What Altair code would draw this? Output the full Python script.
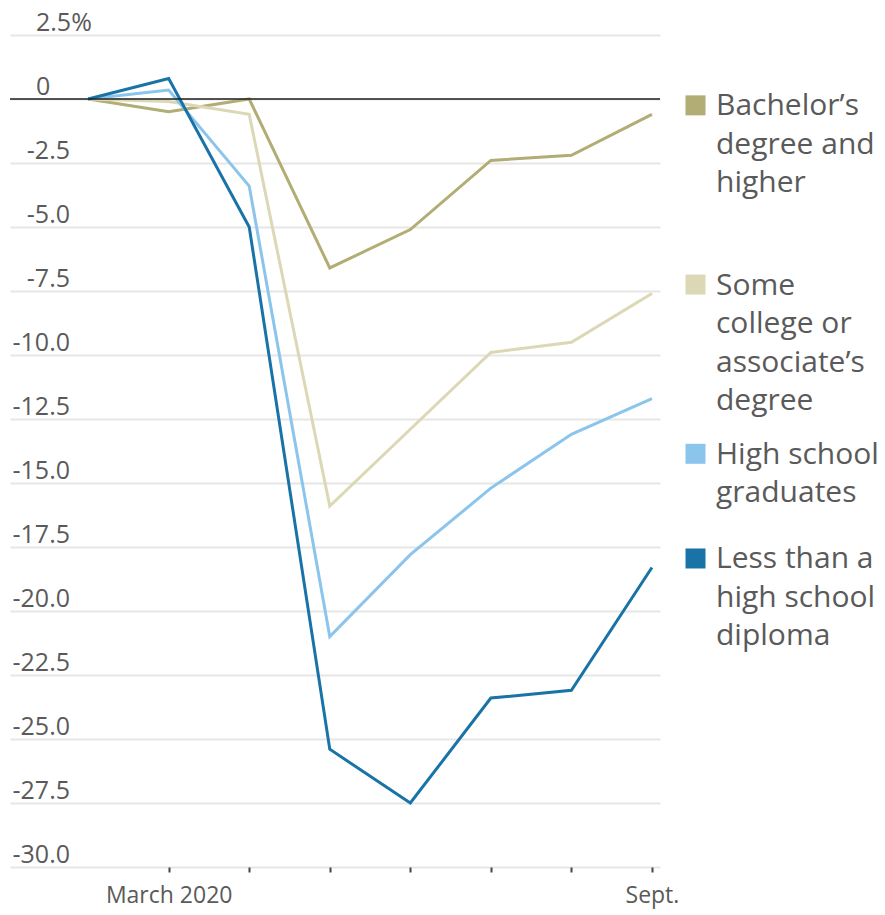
import altair as alt
import pandas as pd

# Change in employment since February 2020, by education level (percent)
month_index = [0, 1, 2, 3, 4, 5, 6, 7]  # Feb. 2020 ... Sept. 2020
tick_labels = {1: "March 2020", 7: "Sept."}

series_names = [
    "Bachelor’s degree and higher",
    "Some college or associate’s degree",
    "High school graduates",
    "Less than a high school diploma",
]
legend_lines = [
    "Bachelor’s\ndegree and\nhigher",
    "Some\ncollege or\nassociate’s\ndegree",
    "High school\ngraduates",
    "Less than a\nhigh school\ndiploma",
]
bachelors = [0.0, -0.5, 0.0, -6.6, -5.1, -2.4, -2.2, -0.6]
some_college = [0.0, -0.1, -0.6, -15.9, -12.9, -9.9, -9.5, -7.6]
high_school = [0.0, 0.35, -3.4, -21.0, -17.8, -15.2, -13.1, -11.7]
less_than_hs = [0.0, 0.8, -5.0, -25.4, -27.5, -23.4, -23.1, -18.3]

y_ticks = [2.5, 0, -2.5, -5, -7.5, -10, -12.5, -15, -17.5, -20, -22.5, -25, -27.5, -30]

colors = ["#b1ad74", "#dcd8b6", "#8cc5ec", "#1a73a7"]
FONT = "Open Sans"
TEXT = "#5a5a5a"

all_values = [bachelors, some_college, high_school, less_than_hs]
rows = []
for name, vals in zip(series_names, all_values):
    for m, v in zip(month_index, vals):
        rows.append({"series": name, "month": m, "value": v})
df = pd.DataFrame(rows)

# Legend blocks sit at each line's final value, pushed down when they would collide
line_step = 38.5 / 25.6  # one text line, in y-scale units
anchors = []
prev_end = None
for vals, lines in zip(all_values, legend_lines):
    a = vals[-1]
    if prev_end is not None:
        a = min(a, prev_end - 2.1)
    anchors.append(a)
    prev_end = a - (lines.count("\n")) * line_step
legend_df = pd.DataFrame({"series": series_names, "label": legend_lines, "value": anchors})

color_scale = alt.Scale(domain=series_names, range=colors)
x_scale = alt.Scale(domain=[-0.97, 7.1], nice=False, zero=False)
y_scale = alt.Scale(domain=[-30, 2.5], nice=False, zero=False)

label_expr = " : ".join(
    f"datum.value == {k} ? '{v}'" for k, v in tick_labels.items()
) + " : ''"

lines = alt.Chart(df).mark_line(strokeWidth=3).encode(
    x=alt.X(
        "month:Q",
        scale=x_scale,
        axis=alt.Axis(
            values=month_index[1:], labelExpr=label_expr, title=None, grid=False,
            domain=False, tickSize=5, tickWidth=2, tickColor="#444",
            labelFont=FONT, labelFontSize=23, labelColor=TEXT, labelPadding=12,
            labelOverlap=False,
        ),
    ),
    y=alt.Y(
        "value:Q",
        scale=y_scale,
        axis=alt.Axis(
            values=y_ticks, title=None, labels=False, ticks=False, domain=False,
            grid=True, gridColor="#e6e6e6", gridWidth=2,
        ),
    ),
    color=alt.Color("series:N", scale=color_scale, legend=None),
    order=alt.Order("month:Q"),
    detail="series:N",
)

zero_line = alt.Chart(pd.DataFrame({"value": [0]})).mark_rule(
    color="#1e1e1e", strokeWidth=1.6
).encode(y=alt.Y("value:Q", scale=y_scale))

ylab_df = pd.DataFrame({
    "value": y_ticks,
    "label": ["2.5%", "0"] + [f"{v:.1f}" for v in y_ticks[2:]],
})
ylab_right = alt.Chart(ylab_df).transform_filter("datum.value < 0").mark_text(
    align="right", baseline="alphabetic", dy=-4, font=FONT, fontSize=25, color=TEXT
).encode(x=alt.value(60), y=alt.Y("value:Q", scale=y_scale), text="label:N")
ylab_left = alt.Chart(ylab_df).transform_filter("datum.value >= 0").mark_text(
    align="left", baseline="alphabetic", dy=-4, font=FONT, fontSize=25, color=TEXT
).encode(x=alt.value(26), y=alt.Y("value:Q", scale=y_scale), text="label:N")

legend_squares = alt.Chart(legend_df).mark_square(size=400, opacity=1).encode(
    x=alt.value(685.5),
    y=alt.Y("value:Q", scale=y_scale),
    yOffset=alt.value(-9),
    color=alt.Color("series:N", scale=color_scale, legend=None),
)
legend_text = alt.Chart(legend_df).mark_text(
    align="left", baseline="alphabetic", dy=1, font=FONT, fontSize=30,
    lineBreak="\n", lineHeight=38.5, color=TEXT,
).encode(x=alt.value(706), y=alt.Y("value:Q", scale=y_scale), text="label:N")

chart = alt.layer(
    lines, zero_line, ylab_right, ylab_left, legend_squares, legend_text
).properties(
    width=650, height=832,
    background="white",
    autosize=alt.AutoSizeParams(type="none"),
    padding={"left": 10, "top": 35, "right": 225, "bottom": 48},
).configure_view(strokeWidth=0, stroke="transparent")

chart.save("out.html", embed_options={"renderer": "svg", "actions": False})
